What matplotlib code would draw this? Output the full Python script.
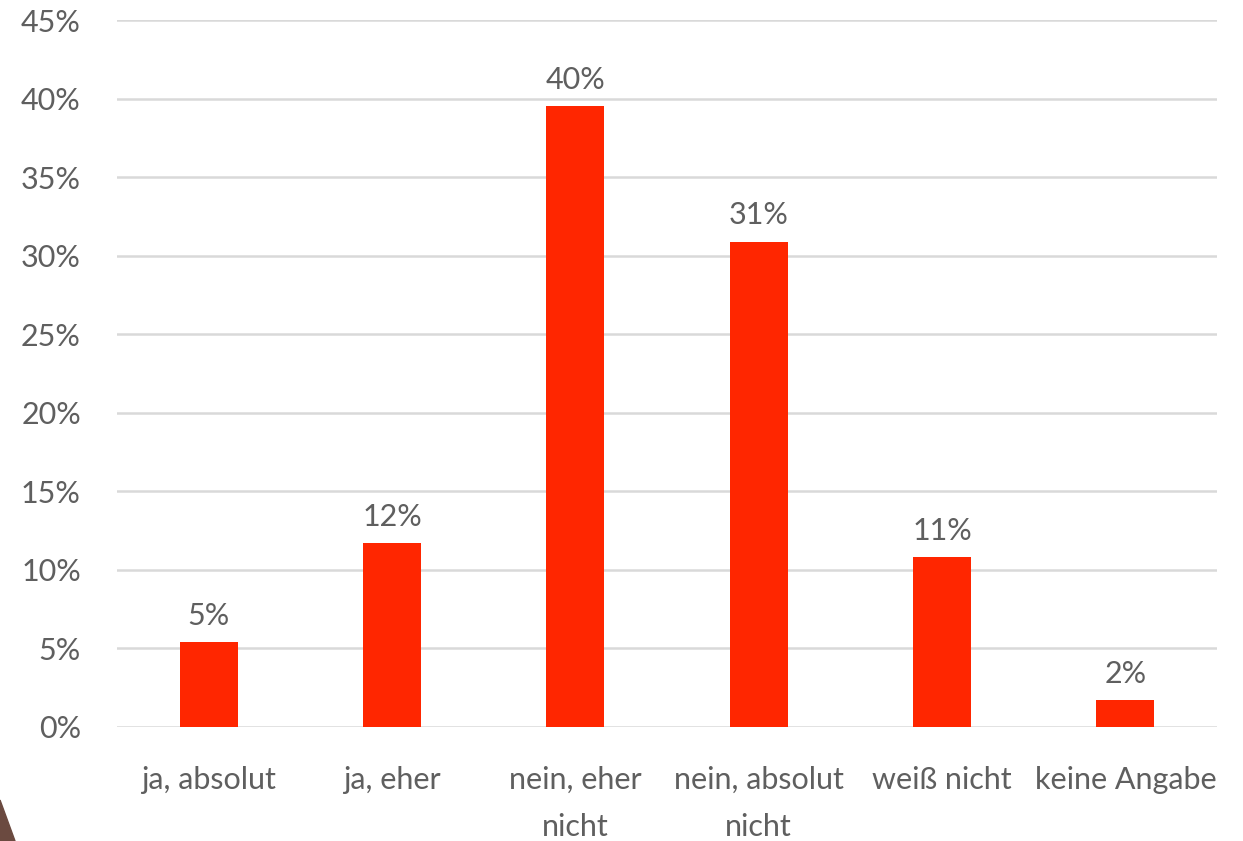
import matplotlib
matplotlib.use("Agg")
import matplotlib.pyplot as plt
from matplotlib.patches import Polygon

categories = ["ja, absolut", "ja, eher", "nein, eher\nnicht", "nein, absolut\nnicht", "weiß nicht", "keine Angabe"]
values = [5.4, 11.7, 39.5, 30.9, 10.8, 1.7]
labels = ["5%", "12%", "40%", "31%", "11%", "2%"]
yticks = [0, 5, 10, 15, 20, 25, 30, 35, 40, 45]

plt.rcParams['font.family'] = ['Lato', 'DejaVu Sans']
text_color = "#5f5f5f"
fs = 22

fig = plt.figure(figsize=(12.43, 8.41), dpi=100)
ax = fig.add_axes([117/1243, 1-727/841, 1100/1243, 707/841])
x = list(range(len(categories)))
ax.bar(x, values, width=0.316, color="#FF2600", zorder=3)
for xi, v, l in zip(x, values, labels):
    ax.annotate(l, (xi, v), xytext=(0, 9), textcoords="offset points",
                ha="center", va="bottom", fontsize=fs, color=text_color)
ax.set_xlim(-0.5, 5.5)
ax.set_ylim(0, 45)
ax.set_yticks(yticks)
ax.set_yticklabels([f"{t}%" for t in yticks], fontsize=fs, color=text_color)
ax.set_xticks(x)
ax.set_xticklabels(categories, fontsize=fs, color=text_color, linespacing=1.85)
ax.tick_params(axis="both", length=0)
ax.tick_params(axis="y", pad=26)
ax.tick_params(axis="x", pad=28)
ax.grid(axis="y", color="#d9d9d9", linewidth=1.8, zorder=0)
for s in ax.spines.values():
    s.set_visible(False)

tri = Polygon([[0, 1-800/841], [15/1243, 0], [0, 0]], closed=True,
              transform=fig.transFigure, color="#6b4a40", clip_on=False)
fig.patches.append(tri)

fig.savefig("out.png", dpi=100)
